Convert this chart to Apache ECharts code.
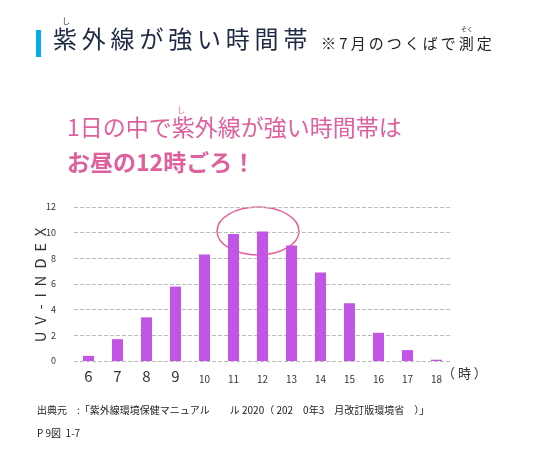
<!DOCTYPE html>
<html><head><meta charset="utf-8">
<script src="https://cdn.jsdelivr.net/npm/echarts@6/dist/echarts.min.js"></script>
<style>html,body{margin:0;background:#fff}#c{width:546px;height:454px}</style>
</head><body><div id="c"></div>
<script>
const hours = ['6','7','8','9','10','11','12','13','14','15','16','17','18'];
const uvIndex = [0.4, 1.7, 3.4, 5.8, 8.3, 9.9, 10.1, 9.0, 6.9, 4.5, 2.2, 0.85, 0.1];
const yTicks = [0, 2, 4, 6, 8, 10, 12];

const F = '"Noto Sans CJK JP", sans-serif';
const chart = echarts.init(document.getElementById('c'));
chart.setOption({
    backgroundColor: '#fff',
    textStyle: {fontFamily: F},
    grid: {left: 74, right: 95, top: 207, bottom: 93},
    xAxis: {
        type: 'category', data: hours,
        axisLine: {show: false}, axisTick: {show: false},
        axisLabel: {
            interval: 0, margin: 8, color: '#333',
            formatter: v => Number(v) < 10 ? '{b|' + v + '}' : '{s|' + v + '}',
            rich: {b: {fontSize: 15, fontFamily: F}, s: {fontSize: 10, fontFamily: F, padding: [5, 0, 0, 0]}}
        }
    },
    yAxis: {
        type: 'value', min: yTicks[0], max: yTicks[yTicks.length - 1], interval: 2,
        axisLine: {show: false}, axisTick: {show: false},
        axisLabel: {fontSize: 9, color: '#333', margin: 18},
        splitLine: {lineStyle: {type: 'dashed', color: '#bbb'}}
    },
    series: [{
        type: 'bar', data: uvIndex, barWidth: 11,
        itemStyle: {color: '#c355e6'}
    }],
    graphic: [
        {type: 'rect', shape: {x: 36, y: 30, width: 5, height: 27}, style: {fill: '#00aeef'}},
        {type: 'text', left: 53, top: 27, style: {text: '紫\u2009外\u2009線\u2009が\u2009強\u2009い\u2009時\u2009間\u2009帯', font: '24px ' + F, fill: '#1f2a44'}},
        {type: 'text', left: 62, top: 17, style: {text: 'し', font: '8px ' + F, fill: '#1f2a44'}},
        {type: 'text', left: 321, top: 36, style: {text: '※ 7\u2009月\u2009の\u2009つ\u2009く\u2009ば\u2009で\u2009測\u2009定', font: '15px ' + F, fill: '#222'}},
        {type: 'text', left: 461, top: 26, style: {text: 'そく', font: '6px ' + F, fill: '#222'}},
        {type: 'text', left: 67, top: 116, style: {text: '1日の中で紫外線が強い時間帯は', font: '23px ' + F, fill: '#e0609e'}},
        {type: 'text', left: 177, top: 106, style: {text: 'し', font: '8px ' + F, fill: '#e0609e'}},
        {type: 'text', left: 67, top: 151, style: {text: 'お昼の12時ごろ！', font: 'bold 23px ' + F, fill: '#e0609e'}},
        {type: 'ellipse', shape: {cx: 258, cy: 231, rx: 41, ry: 24},
            style: {fill: 'none', stroke: '#e8609a', lineWidth: 1.5}},
        {type: 'text', x: 40, y: 285, rotation: Math.PI / 2,
            style: {text: 'U  V  -  I  N  D  E  X', font: '15px ' + F, fill: '#333', align: 'center', verticalAlign: 'middle'}},
        {type: 'text', left: 442, top: 367, style: {text: '（ 時 ）', font: '13px ' + F, fill: '#333'}},
        {type: 'text', left: 37, top: 405, style: {text: '出典元　:「紫外線環境保健マニュアル　　ル 2020（ 202　0年3　月改訂版環境省　）」', font: '10px ' + F, fill: '#222'}},
        {type: 'text', left: 37, top: 428, style: {text: 'P 9図  1-7', font: '10px ' + F, fill: '#222'}}
    ]
});
</script></body></html>
